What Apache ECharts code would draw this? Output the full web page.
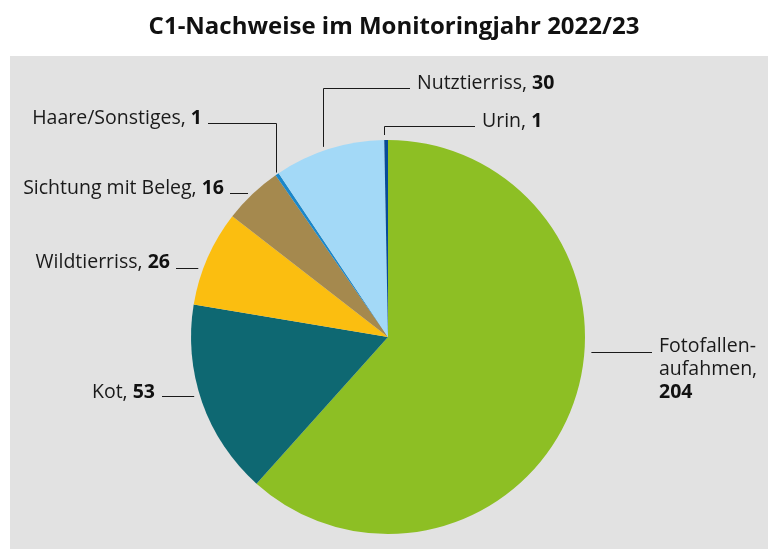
<!DOCTYPE html>
<html><head><meta charset="utf-8">
<script src="https://cdn.jsdelivr.net/npm/echarts@6/dist/echarts.min.js"></script>
<style>html,body{margin:0;padding:0;background:#fff}#c{width:768px;height:549px}</style>
</head><body><div id="c"></div>
<script>
const categories = ['Fotofallen-\naufahmen', 'Kot', 'Wildtierriss', 'Sichtung mit Beleg', 'Haare/Sonstiges', 'Nutztierriss', 'Urin'];
const values = [204, 53, 26, 16, 1, 30, 1];
const colors = ['#8dbf24', '#0e6872', '#fbbe10', '#a5894e', '#1b87c9', '#a3d9f7', '#074b97'];

const CX = 388, CY = 337, R = 197;
const FONT = 'Open Sans';
const FS = 19.5;
// label layout: type 'h' = horizontal line, 'e' = elbow line
const layouts = [
  {type:'h', side:'r', tx:659, ty:346, ly:352, lx:652, gap:7},
  {type:'h', side:'l', tx:155, ty:392, ly:396, lx:162, gap:6},
  {type:'h', side:'l', tx:170, ty:262, ly:268, lx:176, gap:5},
  {type:'h', side:'l', tx:224, ty:188, ly:193, lx:230, gap:5},
  {type:'e', side:'l', tx:202, ty:118, ly:123, lx:208, ax:276, gap:2},
  {type:'e', side:'r', tx:417, ty:83, ly:88, lx:410, ax:323, gap:4},
  {type:'e', side:'r', tx:482, ty:121, ly:126, lx:475, ax:384, gap:5}
];

const chart = echarts.init(document.getElementById('c'));
chart.setOption({
  animation: false,
  title: {
    text: 'C1-Nachweise im Monitoringjahr 2022/23',
    left: 389, top: 10, textAlign: 'center',
    textStyle: {fontFamily: FONT, fontWeight: 'bold', fontSize: 24, color: '#111'}
  },
  graphic: [{type:'rect', z:-10, shape:{x:10, y:56, width:758, height:493}, style:{fill:'#e2e2e2'}}],
  series: [{
    type: 'pie',
    center: [CX, CY], radius: R,
    startAngle: 90, clockwise: true,
    avoidLabelOverlap: false,
    data: categories.map((n, i) => ({name: n, value: values[i], itemStyle: {color: colors[i]}})),
    label: {
      show: true,
      position: 'outside',
      formatter: p => p.dataIndex === 0 ? '{n|' + p.name + ',}\n{b|' + p.value + '}' : '{n|' + p.name + ', }{b|' + p.value + '}',
      rich: {
        n: {fontFamily: FONT, fontSize: FS, color: '#1a1a1a', lineHeight: 23},
        b: {fontFamily: FONT, fontSize: FS, fontWeight: 'bold', color: '#111', lineHeight: 23}
      },
      fontFamily: FONT, fontSize: FS, lineHeight: 23, color: '#1a1a1a'
    },
    labelLine: {show: true, lineStyle: {color: '#1a1a1a', width: 1}},
    emphasis: {disabled: true},
    labelLayout: function (params) {
      const L = layouts[params.dataIndex];
      const ly = L.ly + 0.5;
      let pts;
      if (L.type === 'h') {
        const dy = ly - CY;
        const dx = Math.sqrt(R * R - dy * dy);
        const ex = L.side === 'l' ? CX - dx - L.gap : CX + dx + L.gap;
        pts = [[ex, ly], [ex, ly], [L.lx, ly]];
      } else {
        const ax = L.ax + 0.5;
        const dx = ax - CX;
        const ey = CY - Math.sqrt(R * R - dx * dx) - L.gap;
        pts = [[ax, ey], [ax, ly], [L.lx, ly]];
      }
      return {
        x: L.tx,
        y: params.dataIndex === 0 ? L.ty - 11 : L.ty,
        align: L.side === 'l' ? 'right' : 'left',
        verticalAlign: params.dataIndex === 0 ? 'top' : 'middle',
        labelLinePoints: pts
      };
    }
  }]
});
</script></body></html>
